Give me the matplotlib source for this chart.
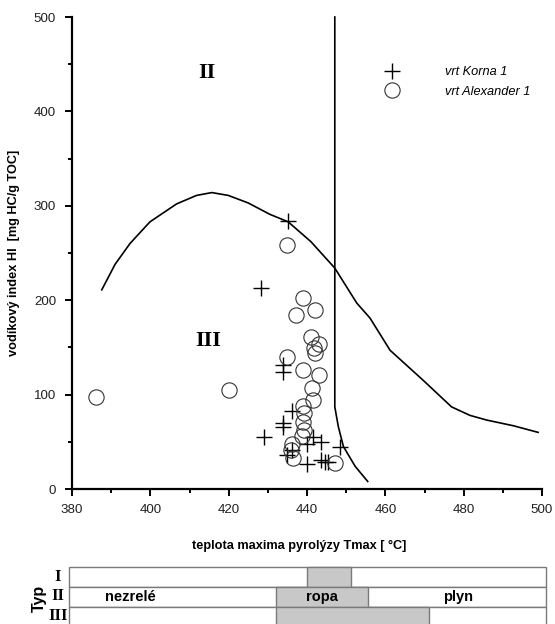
import matplotlib
matplotlib.use("Agg")
import matplotlib.pyplot as plt
from matplotlib.patches import Rectangle
from matplotlib.ticker import MultipleLocator

plt.rcParams['font.family'] = ['Liberation Sans', 'DejaVu Sans']

# --- data -------------------------------------------------------------
korna_tmax = [435.2, 428.3, 433.9, 433.9, 429.1, 436.1, 433.9, 433.9, 441.6,
              443.7, 439.9, 448.4, 436.1, 434.8, 440.1, 443.7, 444.6, 445.4]
korna_hi = [284, 213, 131, 124, 55, 83, 70, 66, 55,
            50, 48, 45, 41, 36, 27, 31, 29, 29]

alex_tmax = [386.0, 420.0, 435.0, 439.1, 437.2, 442.0, 440.9, 443.1, 441.8,
             442.0, 435.0, 439.1, 443.1, 441.4, 441.6, 439.0, 439.2, 439.0,
             439.2, 438.8, 436.1, 435.8, 436.4, 447.1]
alex_hi = [97, 105, 259, 202, 184, 190, 161, 154, 149,
           144, 140, 126, 121, 107, 94, 88, 80, 71,
           63, 56, 48, 41, 33, 28]

# type II / type III boundary curve
curve_tmax = [387.6, 391.0, 394.8, 399.9, 406.7, 411.8, 415.7, 419.9, 425.0,
              430.5, 435.2, 441.0, 447.1, 452.7, 456.1, 461.2, 469.7, 476.9,
              481.6, 485.9, 492.7, 499.0]
curve_hi = [211, 238, 260, 283, 302, 311, 314, 311, 303,
            291, 283, 262, 234, 197, 181, 147, 115, 87,
            78, 73, 67, 60]

# immature / mature boundary
bound_tmax = [447.1, 447.1, 448.0, 449.3, 452.3, 455.5]
bound_hi = [500, 87, 66, 45, 24, 8]

# maturity windows for kerogen types I, II, III
typ_labels = ['I', 'II', 'III']
oil_start = [440.0, 432.0, 432.0]
oil_end = [451.2, 455.5, 471.0]
zone_labels = ['nezrelé', 'ropa', 'plyn']

# --- figure -----------------------------------------------------------
W, H = 555, 624
fig = plt.figure(figsize=(W / 100, H / 100), dpi=100)
fig.patch.set_facecolor('white')

def px_box(x0, y0, x1, y1):
    return [x0 / W, 1 - y1 / H, (x1 - x0) / W, (y1 - y0) / H]

ax = fig.add_axes(px_box(72, 17, 542, 489))
ax.set_xlim(380, 500)
ax.set_ylim(0, 500)
for s in ['top', 'right']:
    ax.spines[s].set_visible(False)
for s in ['left', 'bottom']:
    ax.spines[s].set_linewidth(1.6)
ax.xaxis.set_major_locator(MultipleLocator(20))
ax.xaxis.set_minor_locator(MultipleLocator(10))
ax.yaxis.set_major_locator(MultipleLocator(100))
ax.yaxis.set_minor_locator(MultipleLocator(50))
ax.tick_params(which='both', direction='out', width=1.4, labelsize=9.6,
               colors='black')
ax.tick_params(which='major', length=5)
ax.tick_params(which='minor', length=3)
ax.tick_params(axis='x', which='major', pad=5.5)
ax.tick_params(axis='y', which='major', pad=6.5)
for lab in ax.get_xticklabels() + ax.get_yticklabels():
    lab.set_color('#222222')

ax.plot(curve_tmax, curve_hi, color='black', lw=1.2, clip_on=False)
ax.plot(bound_tmax, bound_hi, color='black', lw=1.2, clip_on=False)

h_k, = ax.plot(korna_tmax, korna_hi, linestyle='none', marker='+',
               markersize=11, markeredgewidth=1.0, color='black',
               label='vrt Korna 1', clip_on=False)
h_a, = ax.plot(alex_tmax, alex_hi, linestyle='none', marker='o',
               markersize=11, markerfacecolor='none', markeredgewidth=0.8,
               markeredgecolor='#333333', label='vrt Alexander 1',
               clip_on=False)

leg = ax.legend(handles=[h_k, h_a], loc='upper left',
                bbox_to_anchor=((385.3 - 72) / 470, (489 - 66) / 472),
                frameon=False, handlelength=1.0, handletextpad=3.7,
                labelspacing=0.62, prop={'style': 'italic', 'size': 9.2},
                borderaxespad=0, borderpad=0)

ax.text(414.5, 441, 'II', fontsize=16, fontweight='bold', family='Liberation Serif',
        ha='center', va='center')
ax.text(414.8, 157, 'III', fontsize=16, fontweight='bold', family='Liberation Serif',
        ha='center', va='center')

ax.set_ylabel('vodíkový index HI  [mg HC/g TOC]', fontsize=9.2, fontweight='bold')
ax.yaxis.set_label_coords((20 - 72) / 470, 0.5)
ax.set_xlabel('teplota maxima pyrolýzy Tmax [ °C]', fontsize=9.2, fontweight='bold')
ax.xaxis.set_label_coords((299 - 72) / 470, (489 - 540) / 472)

# --- maturity table ---------------------------------------------------
tx = fig.add_axes(px_box(69, 567, 546, 627))
t_left, t_right = 379.2, 501.0
tx.set_xlim(t_left, t_right)
tx.set_ylim(3, 0)
tx.axis('off')
edge = '#7a7a7a'
for i in range(3):
    tx.add_patch(Rectangle((t_left, i), t_right - t_left, 1, facecolor='white',
                           edgecolor=edge, lw=1.0, clip_on=False))
for i in range(3):
    tx.add_patch(Rectangle((oil_start[i], i), oil_end[i] - oil_start[i], 1,
                           facecolor='#c8c8c8', edgecolor=edge, lw=1.0,
                           clip_on=False))

def table_x(px):
    return t_left + (px - 69) / (546 - 69) * (t_right - t_left)

tx.text(table_x(130), 1.5, zone_labels[0], fontsize=10.5,
        fontweight='bold', ha='center', va='center')
tx.text((oil_start[1] + oil_end[1]) / 2, 1.5, zone_labels[1], fontsize=10.5,
        fontweight='bold', ha='center', va='center')
tx.text(table_x(458), 1.5, zone_labels[2], fontsize=10.5,
        fontweight='bold', ha='center', va='center')

for i, lab in enumerate(typ_labels):
    fig.text(58 / W, 1 - (577 + i * 19.5) / H, lab, fontsize=12, fontweight='bold',
             family='Liberation Serif', ha='center', va='center')
fig.text(39 / W, 1 - 598 / H, 'Typ', fontsize=11.5, fontweight='bold',
         rotation=90, ha='center', va='center')

fig.savefig('out.png', dpi=100, facecolor='white')
